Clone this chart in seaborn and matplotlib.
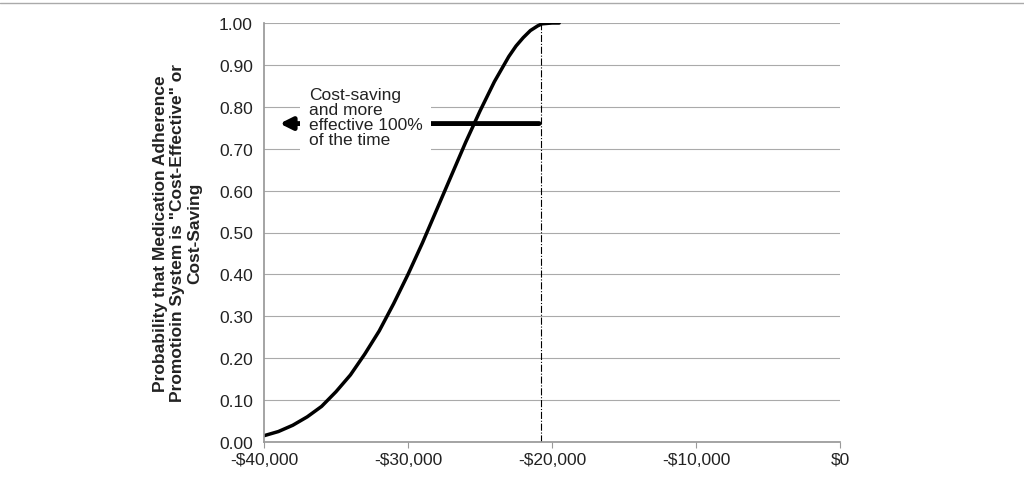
import matplotlib
matplotlib.use("Agg")
import matplotlib.pyplot as plt
import seaborn as sns
import pandas as pd

wtp = [-40000, -39000, -38000, -37000, -36000, -35000, -34000, -33000, -32000, -31000, -30000, -29000,
       -28000, -27000, -26000, -25000, -24000, -23000, -22500, -22000, -21500, -21000, -20700, -20000, -19500]
prob = [0.015, 0.025, 0.04, 0.06, 0.085, 0.12, 0.16, 0.21, 0.265, 0.33, 0.40, 0.475,
        0.555, 0.635, 0.715, 0.79, 0.86, 0.92, 0.945, 0.965, 0.982, 0.993, 0.998, 1.0, 1.0]
yticks = [0.0, 0.1, 0.2, 0.3, 0.4, 0.5, 0.6, 0.7, 0.8, 0.9, 1.0]
xticks = [-40000, -30000, -20000, -10000, 0]
xlabels = ["-$40,000", "-$30,000", "-$20,000", "-$10,000", "$0"]

sns.set_theme(style="white")
plt.rcParams['font.family'] = ['Liberation Sans', 'DejaVu Sans']
fig = plt.figure(figsize=(10.24, 4.81), dpi=100)
ax = fig.add_axes([264/1024, 1-443/481, 576/1024, 419/481])
df = pd.DataFrame({"x": wtp, "y": prob})
sns.lineplot(data=df, x="x", y="y", ax=ax, color="black", linewidth=2.5)
ax.set_xlim(-40000, 0)
ax.set_ylim(0, 1)
ax.set_yticks(yticks)
ax.set_yticklabels([f"{v:.2f}" for v in yticks], fontsize=12.5, color="#222222")
ax.set_xticks(xticks)
ax.set_xticklabels(xlabels, fontsize=12.5, color="#222222")
ax.yaxis.grid(True, color="#aaaaaa", linewidth=0.8)
for s in ["top", "right"]:
    ax.spines[s].set_visible(False)
for s in ["left", "bottom"]:
    ax.spines[s].set_color("#999999")
ax.set_xlabel("")
ax.set_ylabel('Probability that Medication Adherence\nPromotioin System is "Cost-Effective" or\nCost-Saving',
              fontsize=12.5, fontweight="bold", labelpad=12, color="#222222")
ax.axvline(-20750, ymin=0, ymax=1, color="black", linestyle="-.", linewidth=0.8)
ax.annotate("", xy=(-39100, 0.76), xytext=(-20700, 0.76),
            arrowprops=dict(arrowstyle="-|>,head_length=0.6,head_width=0.3", color="black", lw=3.5))
ax.text(-36900, 0.775, "Cost-saving\nand more\neffective 100%\nof the time", fontsize=12.5, va="center",
        color="#222222", linespacing=1.0,
        bbox=dict(facecolor="white", edgecolor="none", pad=6))
ax.tick_params(axis="y", length=0, pad=8)
ax.tick_params(axis="x", length=4, width=0.8, color="#999999", direction="out", pad=3, bottom=True)
fig.add_artist(plt.Line2D([0, 1], [1-4/481, 1-4/481], color="#aaaaaa", lw=1))
fig.savefig("out.png", dpi=100)
